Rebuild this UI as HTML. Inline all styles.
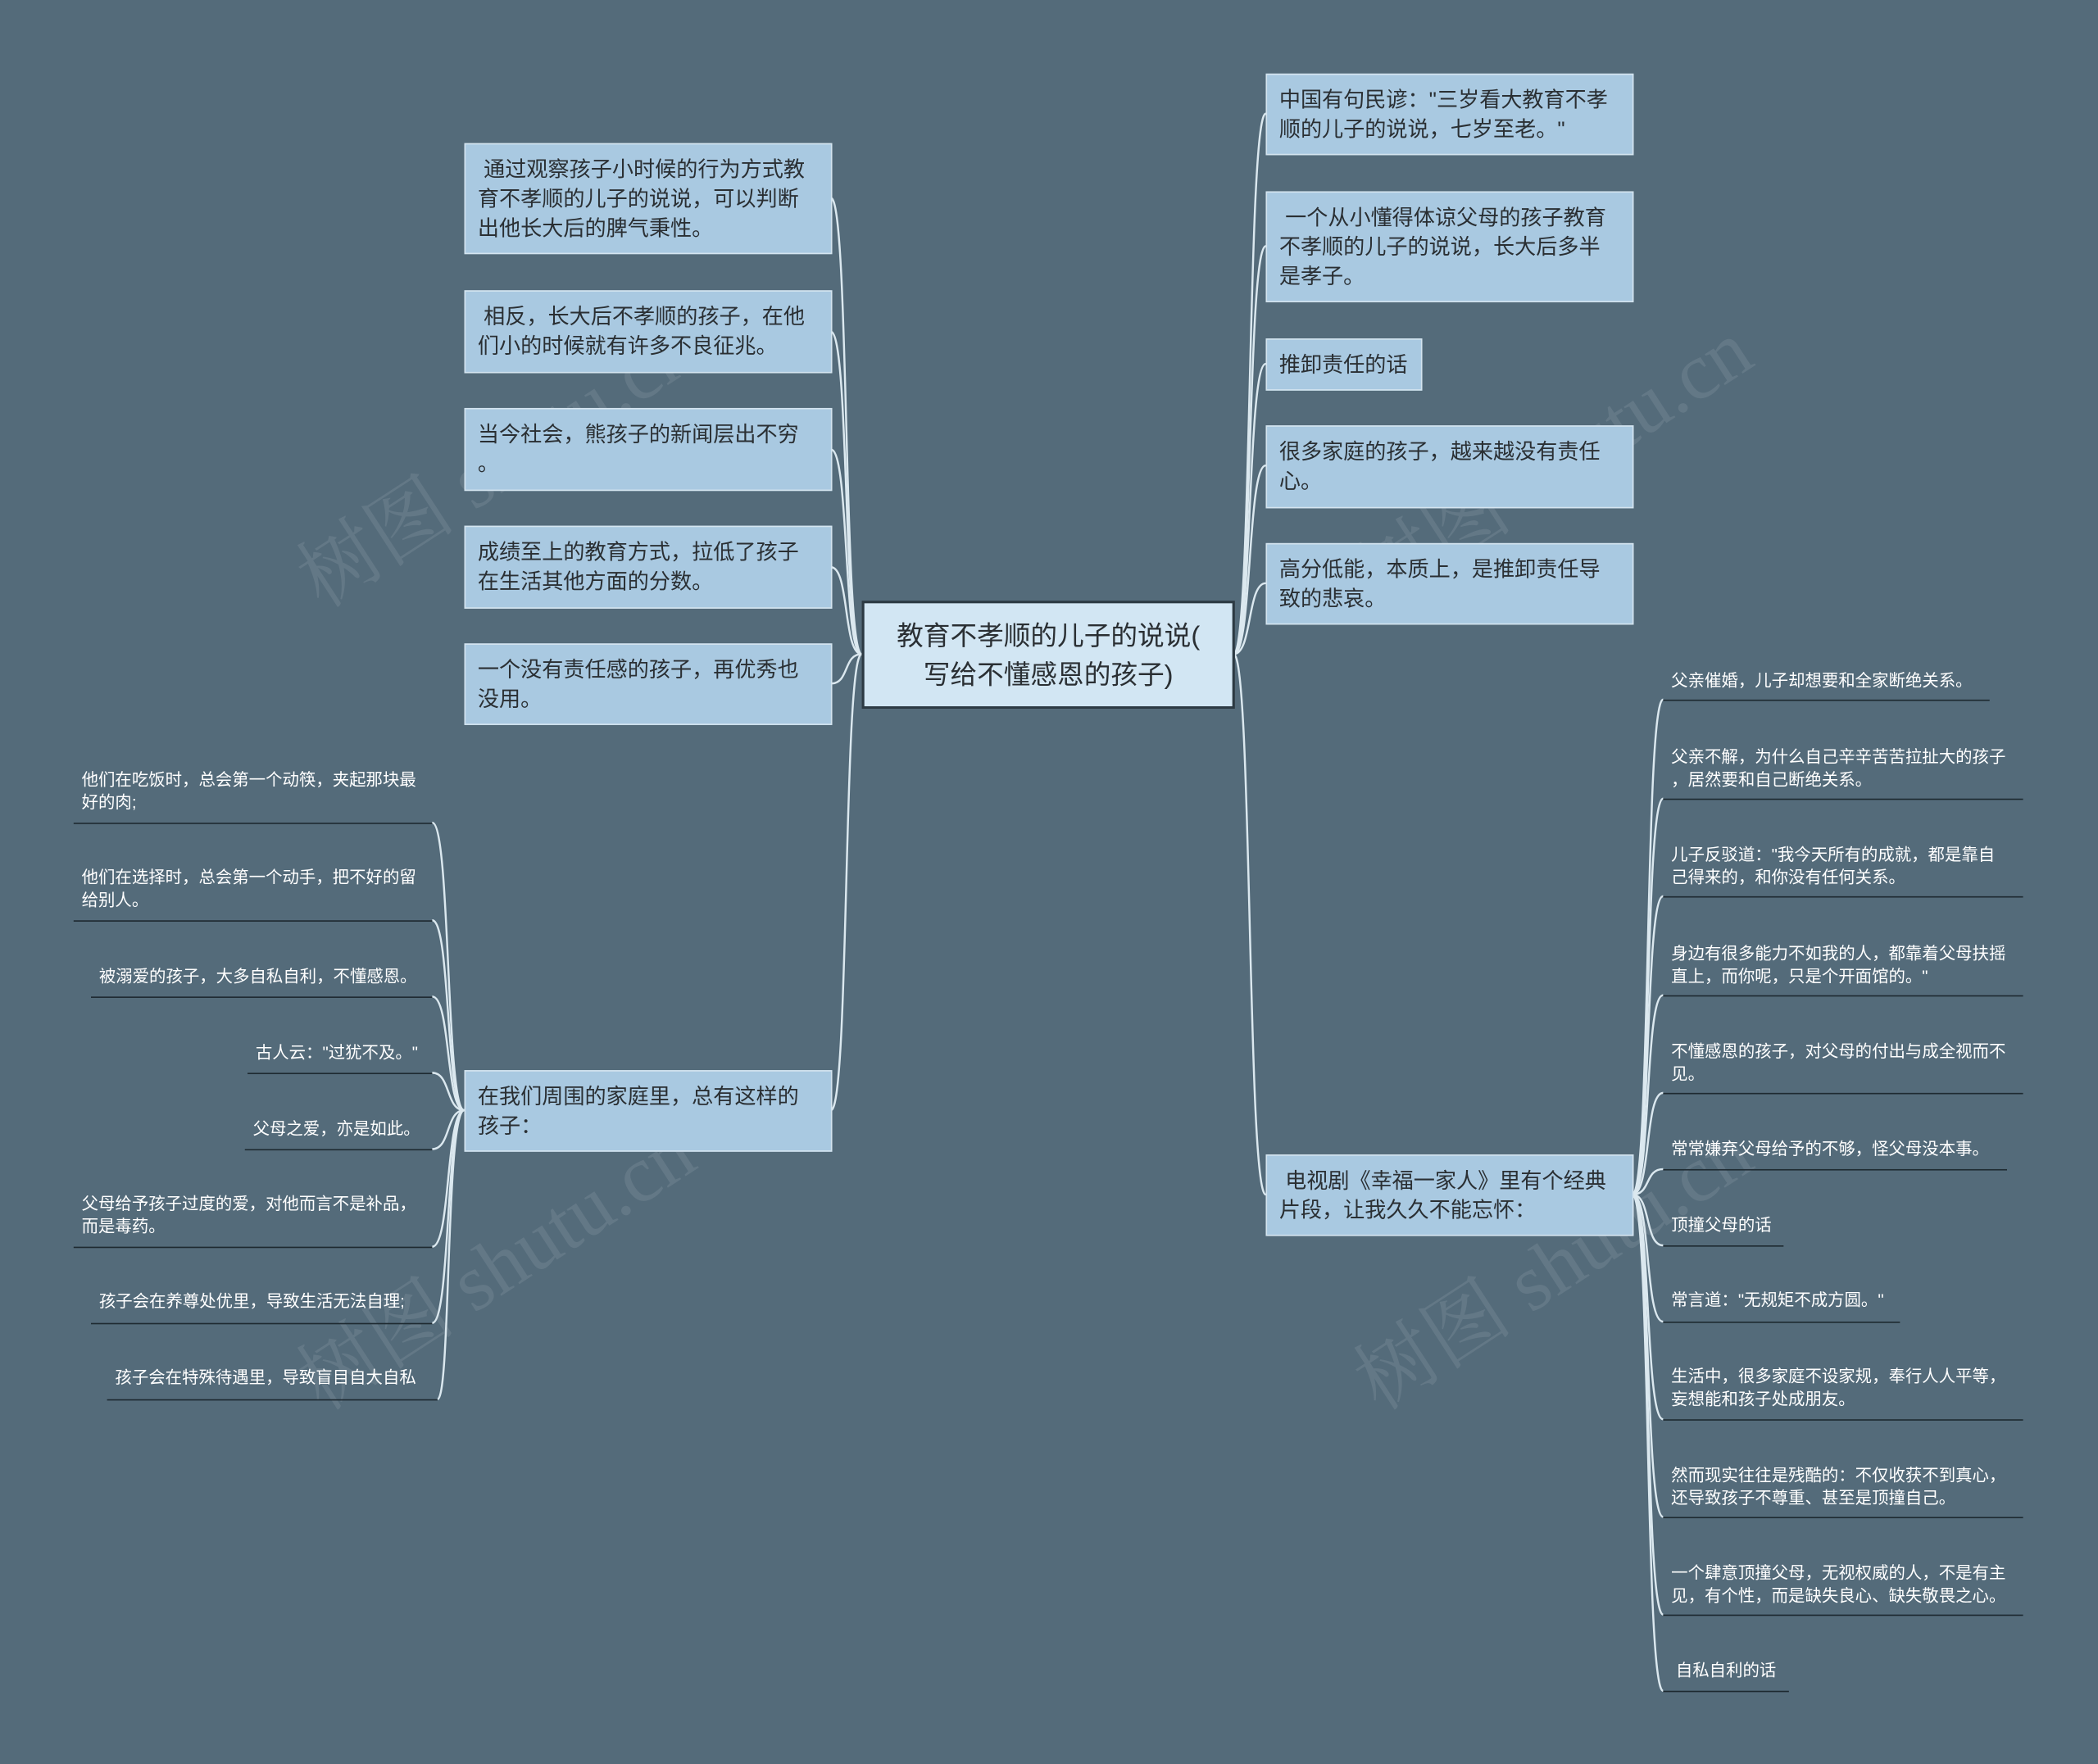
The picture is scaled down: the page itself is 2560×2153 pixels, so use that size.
<!DOCTYPE html>
<html><head><meta charset="utf-8">
<style>
html,body{margin:0;padding:0;background:#546b7a;width:2560px;height:2153px;overflow:hidden}
#s{position:absolute;left:0;top:0;width:1568px;height:1319px;transform:scale(1.632653);transform-origin:0 0;font-family:"Liberation Sans","Noto Sans CJK SC",sans-serif}
.b{position:absolute;background:#a9c9e1;border:1px solid #d4e4ef;color:#2a2f33;font-size:16px;line-height:22px;padding:9px 0 8px 9px;box-sizing:border-box;white-space:nowrap;overflow:hidden}
.c{position:absolute;left:644px;top:449px;width:279px;height:81px;background:#d2e6f3;border:2px solid #2c3a43;box-sizing:border-box;font-size:20px;line-height:29px;text-align:center;padding-top:11px;color:#2a2f33}
.l{position:absolute;color:#fff;font-size:12.5px;line-height:17px;border-bottom:1.5px solid #1e2a31;padding:0 0 6px 6px;box-sizing:border-box;white-space:nowrap}
.w{position:absolute;color:rgba(200,210,220,0.13);font-size:60px;font-family:"Liberation Serif","Noto Serif CJK SC",serif;transform:rotate(-33deg);white-space:nowrap}
svg{position:absolute;left:0;top:0}
</style></head><body><div id="s">
<svg width="1568" height="1319" fill="none" stroke="#dbe8ef" stroke-width="1.5">
<g>
<path d="M644,489 C630,489 635,148 621,148"/>
<path d="M644,489 C630,489 635,248 621,248"/>
<path d="M644,489 C630,489 635,336 621,336"/>
<path d="M644,489 C630,489 635,424 621,424"/>
<path d="M644,489 C630,489 635,511 621,511"/>
<path d="M644,489 C630,489 635,830 621,830"/>
<path d="M922,489 C936,489 932,85 946,85"/>
<path d="M922,489 C936,489 932,184 946,184"/>
<path d="M922,489 C936,489 932,272 946,272"/>
<path d="M922,489 C936,489 932,348 946,348"/>
<path d="M922,489 C936,489 932,436 946,436"/>
<path d="M922,489 C936,489 932,893 946,893"/>
</g>
<g>
<path d="M347,830 C333,830 337,615 323,615"/>
<path d="M347,830 C333,830 337,688 323,688"/>
<path d="M347,830 C333,830 337,745 323,745"/>
<path d="M347,830 C333,830 337,802 323,802"/>
<path d="M347,830 C333,830 337,859 323,859"/>
<path d="M347,830 C333,830 337,932 323,932"/>
<path d="M347,830 C333,830 337,989 323,989"/>
<path d="M347,830 C333,830 337,1046 327,1046"/>
</g>
<g>
<path d="M1220,893 C1234,893 1229,523 1243,523"/>
<path d="M1220,893 C1234,893 1229,597 1243,597"/>
<path d="M1220,893 C1234,893 1229,670 1243,670"/>
<path d="M1220,893 C1234,893 1229,744 1243,744"/>
<path d="M1220,893 C1234,893 1229,817 1243,817"/>
<path d="M1220,893 C1234,893 1229,874 1243,874"/>
<path d="M1220,893 C1234,893 1229,931 1243,931"/>
<path d="M1220,893 C1234,893 1229,988 1243,988"/>
<path d="M1220,893 C1234,893 1229,1061 1243,1061"/>
<path d="M1220,893 C1234,893 1229,1134 1243,1134"/>
<path d="M1220,893 C1234,893 1229,1207 1243,1207"/>
<path d="M1220,893 C1234,893 1229,1264 1243,1264"/>
</g>
</svg>
<div class="w" style="left:200px;top:300px">树图 shutu.cn</div>
<div class="w" style="left:990px;top:300px">树图 shutu.cn</div>
<div class="w" style="left:200px;top:900px">树图 shutu.cn</div>
<div class="w" style="left:990px;top:900px">树图 shutu.cn</div>

<div class="c">教育不孝顺的儿子的说说(<br>写给不懂感恩的孩子)</div>

<div class="b" style="left:347px;top:107px;width:275px;height:83px">&nbsp;通过观察孩子小时候的行为方式教<br>育不孝顺的儿子的说说，可以判断<br>出他长大后的脾气秉性。</div>
<div class="b" style="left:347px;top:217px;width:275px;height:62px">&nbsp;相反，长大后不孝顺的孩子，在他<br>们小的时候就有许多不良征兆。</div>
<div class="b" style="left:347px;top:305px;width:275px;height:62px">当今社会，熊孩子的新闻层出不穷<br>。</div>
<div class="b" style="left:347px;top:393px;width:275px;height:62px">成绩至上的教育方式，拉低了孩子<br>在生活其他方面的分数。</div>
<div class="b" style="left:347px;top:481px;width:275px;height:61px">一个没有责任感的孩子，再优秀也<br>没用。</div>
<div class="b" style="left:347px;top:800px;width:275px;height:61px">在我们周围的家庭里，总有这样的<br>孩子：</div>

<div class="b" style="left:946px;top:55px;width:275px;height:61px">中国有句民谚："三岁看大教育不孝<br>顺的儿子的说说，七岁至老。"</div>
<div class="b" style="left:946px;top:143px;width:275px;height:83px">&nbsp;一个从小懂得体谅父母的孩子教育<br>不孝顺的儿子的说说，长大后多半<br>是孝子。</div>
<div class="b" style="left:946px;top:253px;width:117px;height:39px">推卸责任的话</div>
<div class="b" style="left:946px;top:318px;width:275px;height:62px">很多家庭的孩子，越来越没有责任<br>心。</div>
<div class="b" style="left:946px;top:406px;width:275px;height:61px">高分低能，本质上，是推卸责任导<br>致的悲哀。</div>
<div class="b" style="left:946px;top:863px;width:275px;height:61px">&nbsp;电视剧《幸福一家人》里有个经典<br>片段，让我久久不能忘怀：</div>

<div class="l" style="left:55px;top:575px;width:268px;height:41px">他们在吃饭时，总会第一个动筷，夹起那块最<br>好的肉;</div>
<div class="l" style="left:55px;top:648px;width:268px;height:41px">他们在选择时，总会第一个动手，把不好的留<br>给别人。</div>
<div class="l" style="left:68px;top:722px;width:255px;height:24px">被溺爱的孩子，大多自私自利，不懂感恩。</div>
<div class="l" style="left:185px;top:779px;width:138px;height:24px">古人云："过犹不及。"</div>
<div class="l" style="left:183px;top:836px;width:140px;height:24px">父母之爱，亦是如此。</div>
<div class="l" style="left:55px;top:892px;width:268px;height:41px">父母给予孩子过度的爱，对他而言不是补品，<br>而是毒药。</div>
<div class="l" style="left:68px;top:965px;width:255px;height:25px">孩子会在养尊处优里，导致生活无法自理;</div>
<div class="l" style="left:80px;top:1022px;width:247px;height:25px">孩子会在特殊待遇里，导致盲目自大自私</div>

<div class="l" style="left:1243px;top:501px;width:244px;height:23px">父亲催婚，儿子却想要和全家断绝关系。</div>
<div class="l" style="left:1243px;top:558px;width:269px;height:40px">父亲不解，为什么自己辛辛苦苦拉扯大的孩子<br>，居然要和自己断绝关系。</div>
<div class="l" style="left:1243px;top:631px;width:269px;height:40px">儿子反驳道："我今天所有的成就，都是靠自<br>己得来的，和你没有任何关系。</div>
<div class="l" style="left:1243px;top:705px;width:269px;height:40px">身边有很多能力不如我的人，都靠着父母扶摇<br>直上，而你呢，只是个开面馆的。"</div>
<div class="l" style="left:1243px;top:778px;width:269px;height:40px">不懂感恩的孩子，对父母的付出与成全视而不<br>见。</div>
<div class="l" style="left:1243px;top:851px;width:257px;height:24px">常常嫌弃父母给予的不够，怪父母没本事。</div>
<div class="l" style="left:1243px;top:908px;width:90px;height:24px">顶撞父母的话</div>
<div class="l" style="left:1243px;top:964px;width:177px;height:25px">常言道："无规矩不成方圆。"</div>
<div class="l" style="left:1243px;top:1021px;width:269px;height:41px">生活中，很多家庭不设家规，奉行人人平等，<br>妄想能和孩子处成朋友。</div>
<div class="l" style="left:1243px;top:1095px;width:269px;height:40px">然而现实往往是残酷的：不仅收获不到真心，<br>还导致孩子不尊重、甚至是顶撞自己。</div>
<div class="l" style="left:1243px;top:1168px;width:269px;height:40px">一个肆意顶撞父母，无视权威的人，不是有主<br>见，有个性，而是缺失良心、缺失敬畏之心。</div>
<div class="l" style="left:1243px;top:1241px;width:94px;height:24px">&nbsp;自私自利的话</div>
</div></body></html>
